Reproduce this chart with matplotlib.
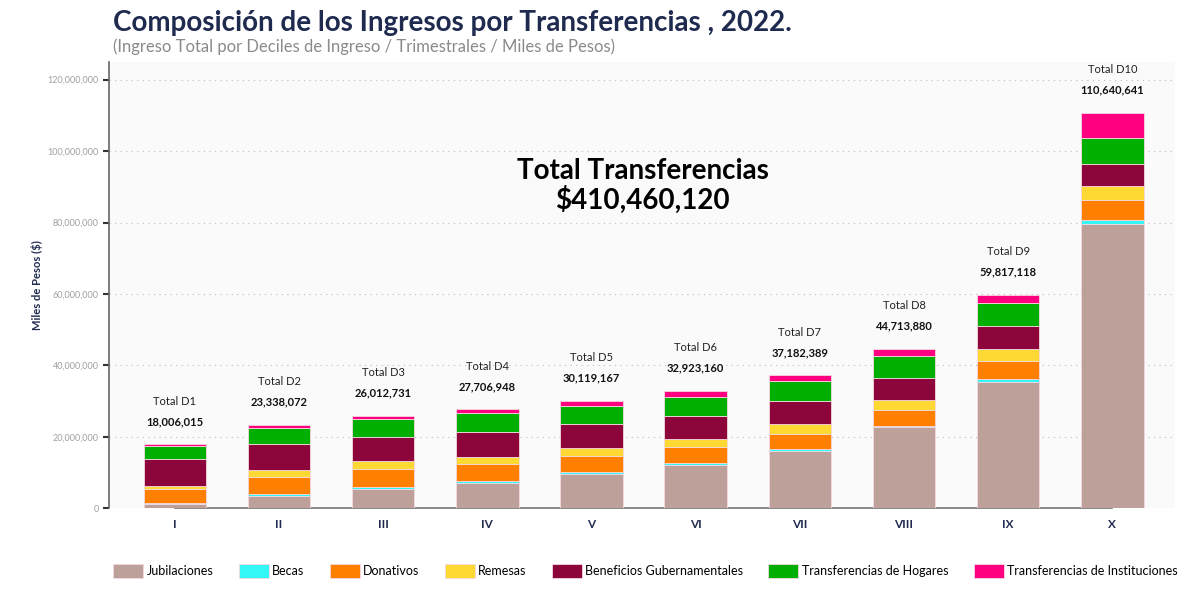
import matplotlib
matplotlib.use("Agg")
import matplotlib.pyplot as plt
import numpy as np
from matplotlib.ticker import FuncFormatter

deciles = ["I", "II", "III", "IV", "V", "VI", "VII", "VIII", "IX", "X"]
totals = [18006015, 23338072, 26012731, 27706948, 30119167,
          32923160, 37182389, 44713880, 59817118, 110640641]
series_names = ["Jubilaciones", "Becas", "Donativos", "Remesas",
                "Beneficios Gubernamentales", "Transferencias de Hogares",
                "Transferencias de Instituciones"]
# values in millions
jubilaciones = [1.1, 3.45, 5.5, 7.0, 9.6, 12.0, 16.0, 22.6, 35.4, 79.7]
becas = [0.3, 0.45, 0.3, 0.55, 0.4, 0.55, 0.55, 0.55, 0.75, 1.1]
donativos = [4.0, 4.95, 5.1, 4.75, 4.75, 4.6, 4.1, 4.3, 4.95, 5.4]
remesas = [0.9, 1.8, 2.2, 2.15, 2.15, 2.25, 2.8, 2.9, 3.55, 3.9]
beneficios = [7.5, 7.2, 6.9, 6.9, 6.6, 6.35, 6.7, 6.15, 6.35, 6.15]
hogares = [3.5, 4.7, 4.85, 5.3, 5.1, 5.4, 5.4, 6.05, 6.35, 7.5]
instituciones = [0.6, 0.75, 1.1, 1.05, 1.5, 1.77, 1.63, 2.15, 2.45, 6.9]
colors = ["#BDA09A", "#33F6F6", "#FF8000", "#FFD933", "#8C063C", "#00AF00", "#FF0080"]
total_general = "$410,460,120"

plt.rcParams['font.family'] = ['Lato', 'DejaVu Sans']

fig = plt.figure(figsize=(12, 6), dpi=100)
ax = fig.add_axes([0.091, 0.153, 0.888, 0.744])
ax.set_facecolor("#FAFAFA")

x = np.arange(len(deciles))
bottom = np.zeros(len(deciles))
data = [jubilaciones, becas, donativos, remesas, beneficios, hogares, instituciones]
for name, vals, c in zip(series_names, data, colors):
    v = np.array(vals) * 1e6
    ax.bar(x, v, width=0.6, bottom=bottom, color=c, edgecolor="#F6D8E0",
           linewidth=0.6, label=name, zorder=3)
    bottom += v

for i, t in enumerate(totals):
    ax.annotate(f"Total D{i+1}", (x[i], bottom[i]), xytext=(0, 31),
                textcoords="offset points", ha="center", va="center",
                fontsize=8, color="#222222")
    ax.annotate(f"{t:,}", (x[i], bottom[i]), xytext=(0, 16.5),
                textcoords="offset points", ha="center", va="center",
                fontsize=8, fontweight="bold", color="#111111")

ax.set_xlim(-0.63, 9.6)
ax.set_ylim(0, 125e6)
ax.set_yticks(np.arange(0, 120e6 + 1, 20e6))
ax.yaxis.set_major_formatter(FuncFormatter(lambda v, p: f"{int(v):,}"))
ax.tick_params(axis="y", labelsize=6.5, labelcolor="#A0A0A0", color="#333333",
               length=4, width=1.5, direction="out")
ax.set_xticks(x)
ax.set_xticklabels(deciles, fontweight="bold")
ax.tick_params(axis="x", length=0, labelsize=8.5, labelcolor="#1F2A4F", pad=8)
ax.grid(axis="y", linestyle=(0, (1, 4)), color="#BBBBBB", linewidth=0.8, zorder=0)
for s in ["top", "right"]:
    ax.spines[s].set_visible(False)
ax.spines["left"].set_color("#666666")
ax.spines["left"].set_linewidth(1.2)
ax.spines["bottom"].set_color("#777777")
ax.spines["bottom"].set_linewidth(1.2)
ax.spines["bottom"].set_bounds(0, 9)
ax.set_ylabel("Miles de Pesos ($)", fontsize=8, fontweight="bold", color="#1F2A4F",
              labelpad=3)

ax.text(4.49, 90.2e6, "Total Transferencias\n" + total_general, ha="center", va="center",
        fontsize=20, fontweight="bold", color="#000000", linespacing=1.05, zorder=4)

fig.text(0.094, 0.962, "Composición de los Ingresos por Transferencias , 2022.",
         fontsize=20, fontweight="bold", color="#1F2A4F", ha="left", va="center")
fig.text(0.094, 0.922, "(Ingreso Total por Deciles de Ingreso / Trimestrales / Miles de Pesos)",
         fontsize=12, color="#8A8A8A", ha="left", va="center")

handles, labels = ax.get_legend_handles_labels()
leg = fig.legend(handles, labels, loc="center", bbox_to_anchor=(0.538, 0.048), ncol=7,
                 frameon=False, fontsize=9, handlelength=2.4, handleheight=1.3,
                 columnspacing=2.0, handletextpad=0.3)

fig.savefig("out.png", dpi=100, facecolor="white")
